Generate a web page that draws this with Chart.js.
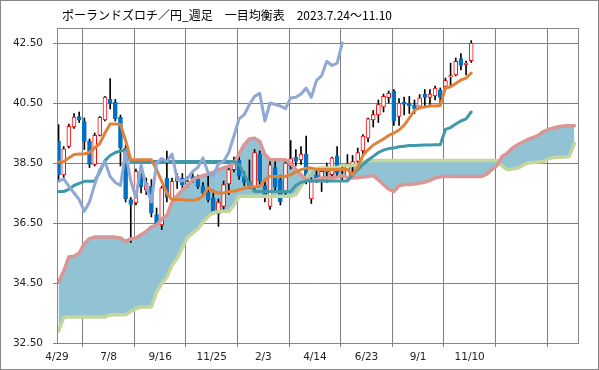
<!DOCTYPE html>
<html>
<head>
<meta charset="utf-8">
<script src="https://cdn.jsdelivr.net/npm/chart.js@4.4.0/dist/chart.umd.min.js"></script>
<style>
  body { margin: 0; background: #fff; }
  canvas { display: block; }
</style>
</head>
<body>
<canvas id="ichimoku" width="599" height="370"></canvas>
<script>
// 週足 (2022/4/29 〜 2023/11/10)
const dateLabels = ['4/29', '7/8', '9/16', '11/25', '2/3', '4/14', '6/23', '9/1', '11/10', '', ''];
const xTickPos = [0, 10, 20, 30, 40, 50, 60, 70, 80, 90, 100];
const yTicks = [32.5, 34.5, 36.5, 38.5, 40.5, 42.5];

const opens = [39.22,38.10,39.05,39.70,40.05,39.88,39.22,38.45,39.42,39.94,
  40.63,40.52,40.03,39.00,37.28,37.17,38.10,37.61,37.72,36.78,
  36.44,38.00,37.28,37.89,38.00,37.78,38.05,37.97,37.72,37.55,
  37.33,36.80,37.05,37.80,38.28,38.60,38.05,37.90,37.70,38.80,
  37.75,37.05,38.35,37.95,37.50,38.40,38.70,38.60,38.80,37.30,
  38.10,37.94,38.20,38.11,38.74,38.00,38.03,38.40,38.55,38.90,
  39.33,39.94,40.10,40.37,40.68,40.90,40.05,40.52,40.48,40.44,
  40.39,40.80,40.69,40.74,40.93,41.05,41.37,41.44,41.98,41.78,
  41.91];
const highs = [39.78,39.05,39.80,40.15,40.20,40.00,39.30,39.50,40.05,40.72,
  41.31,40.62,40.10,39.10,37.35,38.30,38.20,38.00,37.95,37.00,
  37.72,38.90,38.00,38.15,38.15,38.05,38.20,38.10,37.85,38.10,
  37.60,37.30,37.90,38.35,38.70,38.70,38.20,38.60,38.95,38.90,
  37.90,38.60,38.60,38.10,38.55,39.25,38.95,39.05,39.40,38.00,
  38.25,38.35,38.50,38.70,39.05,38.40,38.78,38.75,39.00,39.45,
  40.00,40.25,40.60,40.80,40.90,40.95,40.65,40.70,40.72,40.60,
  40.78,40.95,40.95,41.06,41.00,41.33,41.83,42.00,42.15,41.90,
  42.58];
const lows = [37.95,38.00,39.00,39.65,39.85,38.95,38.35,38.40,39.40,39.90,
  40.30,39.90,38.40,37.20,35.85,37.10,37.50,37.45,36.70,36.45,
  36.28,37.20,37.20,37.65,37.65,37.70,37.85,37.65,37.40,37.20,
  36.80,36.39,36.95,37.45,38.20,37.95,37.75,37.65,37.60,37.80,
  37.20,36.95,37.60,37.10,37.40,38.30,38.40,38.45,37.80,37.15,
  37.85,37.55,37.85,38.00,38.05,37.90,37.95,38.20,38.40,38.80,
  39.20,39.70,39.85,40.20,40.50,39.75,39.75,40.10,40.15,40.15,
  40.30,40.40,40.45,40.60,40.44,40.95,41.05,41.40,41.60,41.44,
  41.85];
const closes = [38.10,38.97,39.72,40.03,39.93,39.22,38.45,39.42,40.02,40.70,
  40.50,39.97,39.00,37.30,37.12,38.22,37.70,37.83,36.83,36.50,
  37.67,37.35,37.89,38.05,37.78,37.89,37.97,37.72,37.50,37.28,
  36.89,37.20,37.78,38.28,38.55,38.05,37.85,37.75,38.85,37.90,
  37.35,38.44,37.70,37.20,38.50,38.65,38.55,38.80,37.95,37.90,
  37.98,38.22,38.35,38.67,38.17,38.07,38.47,38.55,38.85,39.40,
  39.97,40.11,40.45,40.72,40.82,39.90,40.50,40.45,40.40,40.31,
  40.67,40.69,40.80,41.00,40.69,41.25,41.41,41.89,41.75,41.83,
  42.50];

// 転換線
const tenkan = [38.53,38.54,38.67,38.78,38.80,38.80,38.85,39.00,39.15,39.50,
  39.80,39.80,39.78,39.25,38.61,38.61,38.61,38.61,38.61,38.28,
  37.89,37.50,37.28,37.28,37.28,37.26,37.26,37.28,37.40,37.67,
  37.55,37.50,37.50,37.55,37.56,37.61,37.66,37.70,37.71,37.72,
  37.94,38.05,38.05,38.05,38.05,38.11,38.20,38.28,38.33,38.33,
  38.28,38.28,38.28,38.28,38.28,38.28,38.28,38.12,38.35,38.75,
  38.94,39.10,39.20,39.30,39.42,39.50,39.60,39.76,40.00,40.25,
  40.35,40.37,40.40,40.40,40.42,41.00,41.04,41.15,41.27,41.33,
  41.50];
// 基準線
const kijun = [37.55,37.55,37.62,37.75,37.82,37.89,37.89,37.89,38.20,38.58,
  38.75,38.85,38.90,38.94,38.55,38.55,38.55,38.55,38.55,38.55,
  38.55,38.55,38.55,38.55,38.55,38.55,38.55,38.55,38.55,38.55,
  38.55,38.55,38.55,38.55,38.55,38.45,38.10,37.80,37.55,37.55,
  37.55,37.55,37.55,37.55,37.55,37.55,37.75,37.85,37.90,37.90,
  37.90,37.90,37.90,37.90,37.90,37.90,37.90,38.10,38.28,38.45,
  38.60,38.72,38.85,38.93,38.98,39.00,39.04,39.06,39.08,39.08,
  39.09,39.10,39.10,39.11,39.11,39.62,39.68,39.80,39.90,39.97,
  40.20];
// 先行スパン1
const senkouA = [34.55,34.89,35.37,35.39,35.50,35.81,35.98,36.03,36.03,36.03,
  36.03,36.03,36.00,35.89,35.97,36.00,36.11,36.22,36.37,36.43,
  36.64,36.75,37.20,37.41,37.60,37.77,37.93,38.03,38.08,38.13,
  38.20,38.28,38.34,38.39,38.49,38.80,39.11,39.30,39.33,39.22,
  38.78,38.61,38.61,38.61,38.61,38.48,38.28,38.11,37.94,37.89,
  37.95,38.00,38.00,38.00,38.03,38.08,38.02,38.00,38.02,38.03,
  38.05,38.08,37.94,37.78,37.63,37.55,37.74,37.78,37.78,37.80,
  37.83,37.86,37.92,38.00,38.04,38.05,38.05,38.05,38.05,38.05,
  38.05,38.05,38.05,38.13,38.28,38.42,38.72,38.83,39.00,39.11,
  39.20,39.29,39.35,39.42,39.55,39.62,39.67,39.71,39.73,39.74,
  39.74];
// 先行スパン2
const senkouB = [32.90,33.35,33.37,33.37,33.37,33.37,33.37,33.37,33.37,33.37,
  33.44,33.44,33.44,33.44,33.55,33.65,33.70,33.70,33.70,34.20,
  34.48,34.70,35.10,35.32,35.68,36.02,36.16,36.30,36.52,36.72,
  36.84,36.88,36.89,36.89,37.10,37.39,37.39,37.39,37.39,37.39,
  37.39,37.39,37.39,37.39,37.39,37.39,37.45,37.72,38.00,38.30,
  38.32,38.33,38.33,38.33,38.35,38.42,38.42,38.42,38.45,38.52,
  38.58,38.58,38.58,38.58,38.58,38.58,38.58,38.58,38.58,38.58,
  38.58,38.58,38.58,38.58,38.58,38.58,38.58,38.58,38.58,38.58,
  38.58,38.58,38.58,38.58,38.58,38.58,38.40,38.28,38.30,38.33,
  38.42,38.50,38.52,38.53,38.55,38.65,38.68,38.69,38.70,38.72,
  39.15];

// 遅行スパン = 終値を25本前に
const chikou = closes.slice(25);

const title = 'ポーランドズロチ／円_週足　一目均衡表　2023.7.24～11.10';

const toPts = arr => arr.map((v, i) => ({ x: i + 0.3, y: v }));
const isUp = closes.map((c, i) => c >= opens[i]);

const bodies = closes.map((c, i) => ({ x: i + 0.3, y: [opens[i], c] }));
const wicks = closes.map((c, i) => ({ x: i + 0.3, y: [lows[i], highs[i]] }));

const framePlugin = {
  id: 'frame',
  beforeDraw(chart) {
    const ctx = chart.ctx;
    ctx.save();
    ctx.fillStyle = '#fff';
    ctx.fillRect(0, 0, chart.width, chart.height);
    ctx.restore();
  },
  afterDraw(chart) {
    const { ctx, chartArea: a } = chart;
    ctx.save();
    ctx.strokeStyle = '#868686';
    ctx.lineWidth = 1;
    const l = Math.round(a.left) + 0.5, t = Math.round(a.top) + 0.5;
    ctx.strokeRect(l, t, Math.round(a.right) - Math.round(a.left), Math.round(a.bottom) - Math.round(a.top));
    ctx.strokeRect(0.5, 0.5, chart.width - 1, chart.height - 1);
    ctx.fillStyle = '#000';
    ctx.font = '12px "Noto Sans CJK JP"';
    ctx.textBaseline = 'middle';
    ctx.textAlign = 'left';
    ctx.fillText(title, 62, 15);
    ctx.restore();
  }
};

const tickFont = { family: 'DejaVu Sans', size: 10.5 };

new Chart(document.getElementById('ichimoku'), {
  type: 'bar',
  data: {
    datasets: [
      {
        label: 'ヒゲ', data: wicks, backgroundColor: '#000', borderWidth: 0,
        barThickness: 1, grouped: false, order: 10
      },
      {
        label: 'ローソク', data: bodies,
        backgroundColor: isUp.map(u => u ? '#ffffff' : '#0070C0'),
        borderColor: isUp.map(u => u ? '#FF0000' : '#0070C0'),
        borderWidth: 1, borderSkipped: false,
        barThickness: 4, grouped: false, order: 9
      },
      {
        type: 'line', label: '先行スパン1', data: toPts(senkouA),
        borderColor: '#D99694', borderWidth: 3.5, pointRadius: 0,
        fill: { target: 3, above: '#92C3D5', below: '#92C3D5' },
        backgroundColor: '#92C3D5', order: 4
      },
      {
        type: 'line', label: '先行スパン2', data: toPts(senkouB),
        borderColor: '#C3D69B', borderWidth: 3.5, pointRadius: 0, fill: false, order: 5
      },
      {
        type: 'line', label: '基準線', data: toPts(kijun),
        borderColor: '#4198AA', borderWidth: 3, pointRadius: 0, fill: false, order: 3
      },
      {
        type: 'line', label: '転換線', data: toPts(tenkan),
        borderColor: '#E2823A', borderWidth: 3, pointRadius: 0, fill: false, order: 2
      },
      {
        type: 'line', label: '遅行スパン', data: toPts(chikou),
        borderColor: '#8FA8D4', borderWidth: 3, pointRadius: 0, fill: false, order: 1
      }
    ]
  },
  options: {
    responsive: false,
    animation: false,
    devicePixelRatio: 1,
    layout: { padding: { left: 0, right: 21, top: 28, bottom: 0 } },
    plugins: {
      legend: { display: false },
      tooltip: { enabled: false },
      title: { display: false },
      filler: { drawTime: 'beforeDatasetsDraw' }
    },
    elements: { line: { borderJoinStyle: 'round', borderCapStyle: 'round', tension: 0 } },
    scales: {
      x: {
        type: 'linear', min: 0, max: 101, offset: false,
        afterBuildTicks: s => { s.ticks = xTickPos.map(v => ({ value: v })); },
        afterFit: s => { s.height = 27; },
        grid: {
          color: '#808080', borderDash: [4, 3], tickLength: 5,
          tickColor: '#808080', tickBorderDash: [4, 3]
        },
        border: { display: false },
        ticks: {
          autoSkip: false, maxRotation: 0, padding: 3, color: '#222', font: tickFont,
          callback: (v, i) => dateLabels[i]
        }
      },
      y: {
        min: 32.5, max: 43,
        afterBuildTicks: s => { s.ticks = yTicks.map(v => ({ value: v })); },
        afterFit: s => { s.width = 57; },
        grid: {
          color: '#808080', borderDash: [4, 3], tickLength: 4,
          tickColor: '#808080'
        },
        border: { display: false },
        ticks: {
          padding: 10, color: '#222', font: tickFont,
          callback: v => v.toFixed(2)
        }
      }
    }
  },
  plugins: [framePlugin]
});
</script>
</body>
</html>
